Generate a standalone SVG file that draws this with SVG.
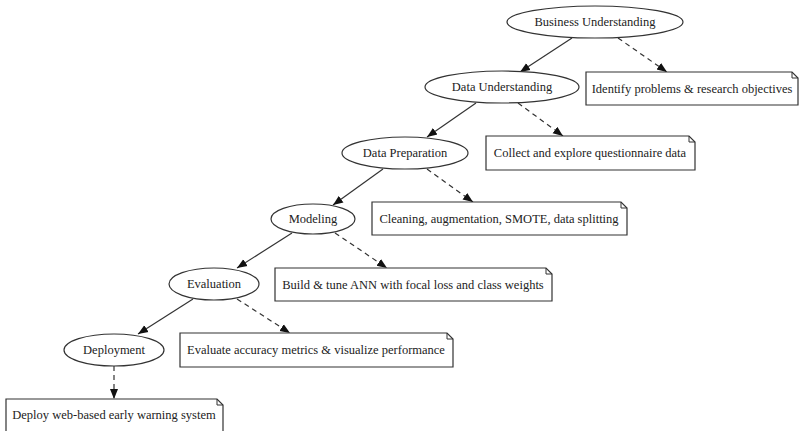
<svg xmlns="http://www.w3.org/2000/svg" width="800" height="431" viewBox="0 0 800 431">
<style>
text{font-family:"Liberation Serif","Times New Roman",serif;font-size:12.5px;fill:#222;text-anchor:middle;dominant-baseline:central}
ellipse,.note{fill:#fff;stroke:#333;stroke-width:1.2}
.fold{fill:none;stroke:#333;stroke-width:1}
.e{stroke:#333;stroke-width:1.2;fill:none}
.d{stroke-dasharray:5,4}
</style>
<defs>
<marker id="ah" viewBox="0 0 10 10" refX="10" refY="5" markerWidth="10" markerHeight="10" markerUnits="userSpaceOnUse" orient="auto">
<path d="M0,1 L10,5 L0,9 Z" fill="#111"/>
</marker>
</defs>
<rect width="800" height="431" fill="#fff"/>
<g id="connectors">
<line class="e" x1="572" y1="38" x2="520" y2="72" marker-end="url(#ah)"/>
<line class="e d" x1="618" y1="38" x2="667" y2="72" marker-end="url(#ah)"/>
<line class="e" x1="476" y1="103" x2="427" y2="137" marker-end="url(#ah)"/>
<line class="e d" x1="518" y1="103" x2="563" y2="136" marker-end="url(#ah)"/>
<line class="e" x1="383" y1="169" x2="333" y2="205" marker-end="url(#ah)"/>
<line class="e d" x1="427" y1="169" x2="473" y2="202" marker-end="url(#ah)"/>
<line class="e" x1="292" y1="233" x2="237" y2="268" marker-end="url(#ah)"/>
<line class="e d" x1="335" y1="233" x2="387" y2="268" marker-end="url(#ah)"/>
<line class="e" x1="193" y1="299" x2="138" y2="334" marker-end="url(#ah)"/>
<line class="e d" x1="237" y1="299" x2="290" y2="333" marker-end="url(#ah)"/>
<line class="e d" x1="114" y1="366" x2="114" y2="399" marker-end="url(#ah)"/>
</g>
<g id="n-business">
<ellipse cx="595" cy="22" rx="88" ry="16"/>
<text x="595" y="22">Business Understanding</text>
</g>
<g id="n-data-understanding">
<ellipse cx="502" cy="87" rx="77" ry="16"/>
<text x="502" y="87">Data Understanding</text>
</g>
<g id="n-identify">
<path class="note" d="M586,72 H792 L798,78 V105 H586 Z"/>
<path class="fold" d="M792,72 V78 H798"/>
<text x="692" y="88.5">Identify problems &amp; research objectives</text>
</g>
<g id="n-data-preparation">
<ellipse cx="405" cy="153" rx="63" ry="16"/>
<text x="405" y="153">Data Preparation</text>
</g>
<g id="n-collect">
<path class="note" d="M486,136 H689 L695,142 V170 H486 Z"/>
<path class="fold" d="M689,136 V142 H695"/>
<text x="590" y="153">Collect and explore questionnaire data</text>
</g>
<g id="n-modeling">
<ellipse cx="313" cy="219" rx="42" ry="15"/>
<text x="313" y="219">Modeling</text>
</g>
<g id="n-cleaning">
<path class="note" d="M372,202 H621 L627,208 V235 H372 Z"/>
<path class="fold" d="M621,202 V208 H627"/>
<text x="499" y="218.5">Cleaning, augmentation, SMOTE, data splitting</text>
</g>
<g id="n-evaluation">
<ellipse cx="214" cy="284" rx="45" ry="16"/>
<text x="214" y="284">Evaluation</text>
</g>
<g id="n-build">
<path class="note" d="M275,268 H546 L552,274 V301 H275 Z"/>
<path class="fold" d="M546,268 V274 H552"/>
<text x="413" y="284.5">Build &amp; tune ANN with focal loss and class weights</text>
</g>
<g id="n-deployment">
<ellipse cx="114" cy="350" rx="50" ry="16"/>
<text x="114" y="350">Deployment</text>
</g>
<g id="n-evaluate">
<path class="note" d="M180,333 H447 L453,339 V367 H180 Z"/>
<path class="fold" d="M447,333 V339 H453"/>
<text x="316" y="350">Evaluate accuracy metrics &amp; visualize performance</text>
</g>
<g id="n-deploy">
<path class="note" d="M6,399 H217 L223,405 V432 H6 Z"/>
<path class="fold" d="M217,399 V405 H223"/>
<text x="114" y="415">Deploy web-based early warning system</text>
</g>
</svg>
